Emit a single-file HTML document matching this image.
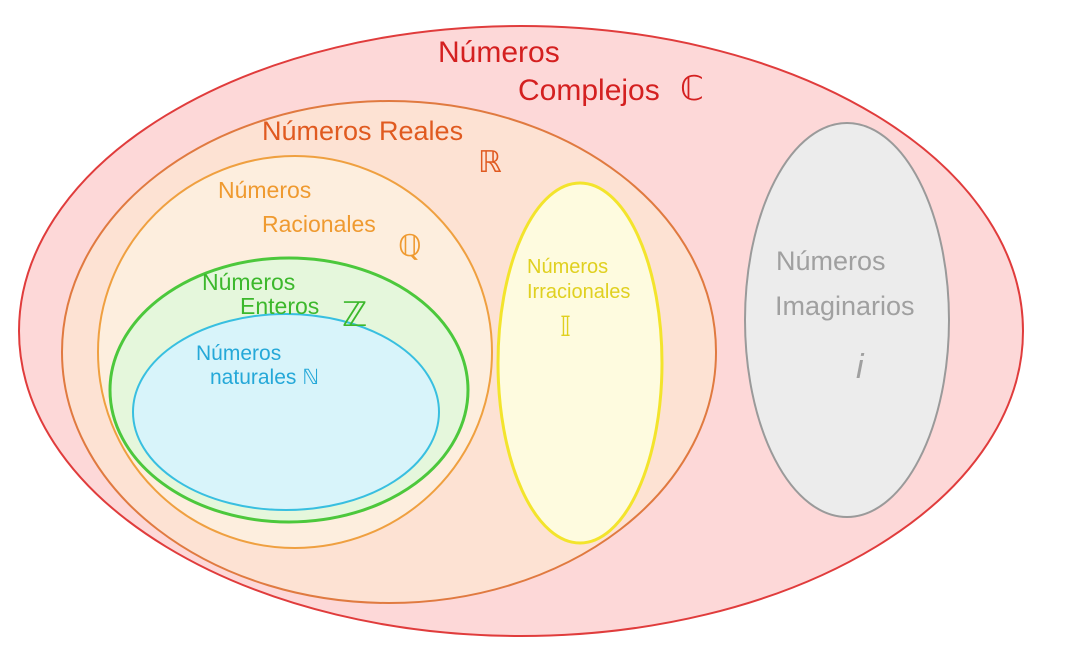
<!DOCTYPE html>
<html><head><meta charset="utf-8"><style>
html,body{margin:0;padding:0;background:#fff}
svg{display:block}
text{font-family:"Liberation Sans",sans-serif}
</style></head><body>
<svg width="1078" height="660" viewBox="0 0 1078 660">
<ellipse cx="521" cy="331" rx="502" ry="305" fill="#fdd8d8" stroke="#e03c3c" stroke-width="2"/>
<ellipse cx="389" cy="352" rx="327" ry="251" fill="#fde2d3" stroke="#e07a40" stroke-width="2"/>
<ellipse cx="295" cy="352" rx="197" ry="196" fill="#fdeede" stroke="#efa040" stroke-width="2"/>
<ellipse cx="289" cy="390" rx="179" ry="132" fill="#e5f7dc" stroke="#4cc83c" stroke-width="3"/>
<ellipse cx="286" cy="412" rx="153" ry="98" fill="#d8f4fa" stroke="#38bfe0" stroke-width="2"/>
<ellipse cx="580" cy="363" rx="82" ry="180" fill="#fefbdf" stroke="#f3e42c" stroke-width="3"/>
<ellipse cx="847" cy="320" rx="102" ry="197" fill="#ececec" stroke="#9a9a9a" stroke-width="2"/>

<g fill="#d42020" font-size="30">
<text x="438" y="62">Números</text>
<text x="518" y="100">Complejos</text>
<text x="680" y="100" font-size="34">ℂ</text>
</g>
<g fill="#e05a20" font-size="27">
<text x="262" y="140">Números Reales</text>
<text x="478" y="172" font-size="30">ℝ</text>
</g>
<g fill="#ef9a30" font-size="23">
<text x="218" y="198">Números</text>
<text x="262" y="232">Racionales</text>
<text x="398" y="256" font-size="30">ℚ</text>
</g>
<g fill="#3cb82c" font-size="23">
<text x="202" y="290">Números</text>
<text x="240" y="314">Enteros</text>
<text x="342" y="326" font-size="34">ℤ</text>
</g>
<g fill="#25a8d8" font-size="21">
<text x="196" y="360">Números</text>
<text x="210" y="384">naturales ℕ</text>
</g>
<g fill="#e0d020" font-size="20">
<text x="527" y="273">Números</text>
<text x="527" y="298">Irracionales</text>
<text x="560" y="336" font-size="28">𝕀</text>
</g>
<g fill="#a0a0a0" font-size="27">
<text x="776" y="270">Números</text>
<text x="775" y="315">Imaginarios</text>
<text x="856" y="378" font-size="34" font-style="italic">i</text>
</g>
</svg>
</body></html>
